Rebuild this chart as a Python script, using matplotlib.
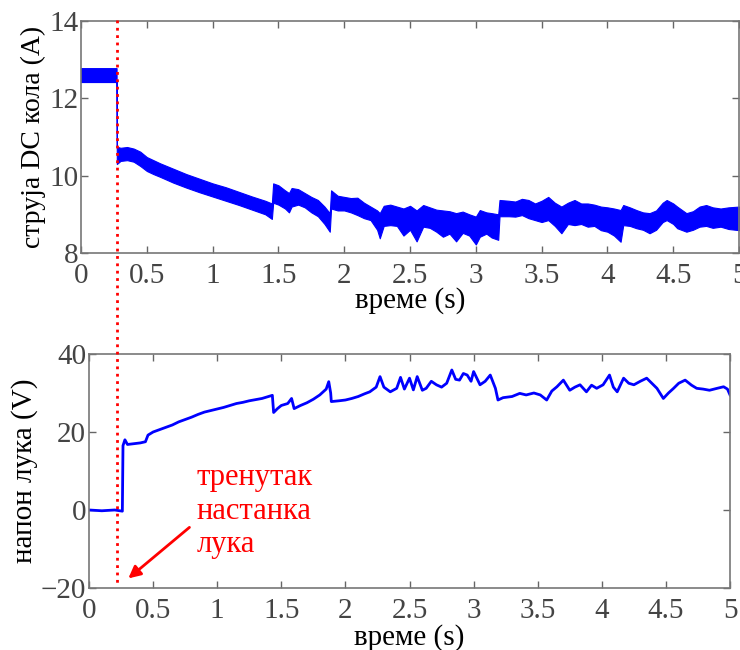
import matplotlib
matplotlib.use('Agg')
import matplotlib.pyplot as plt
from matplotlib.lines import Line2D

plt.rcParams['font.family'] = ['Liberation Serif', 'DejaVu Serif']

# DC circuit current: time, upper and lower edge of the noisy band (A)
cur_t = [0.00, 0.27, 0.272, 0.30, 0.35, 0.40, 0.45, 0.50, 0.55, 0.60, 0.70, 0.80, 0.90, 1.00,
         1.10, 1.20, 1.30, 1.40, 1.45, 1.46, 1.50, 1.55, 1.58, 1.60, 1.65, 1.70, 1.75, 1.80,
         1.85, 1.89, 1.90, 1.95, 2.00, 2.05, 2.10, 2.15, 2.20, 2.25, 2.27, 2.30, 2.35, 2.40,
         2.45, 2.50, 2.55, 2.60, 2.65, 2.70, 2.75, 2.80, 2.85, 2.90, 2.95, 3.00, 3.03, 3.08,
         3.12, 3.17, 3.18, 3.25, 3.30, 3.35, 3.40, 3.45, 3.50, 3.55, 3.60, 3.65, 3.70, 3.75,
         3.80, 3.85, 3.90, 3.95, 4.00, 4.05, 4.10, 4.12, 4.17, 4.22, 4.27, 4.32, 4.37, 4.42,
         4.45, 4.50, 4.53, 4.60, 4.65, 4.70, 4.75, 4.80, 4.86, 4.92, 5.00]
cur_hi = [12.78, 12.78, 10.75, 10.72, 10.74, 10.70, 10.62, 10.48, 10.40, 10.32, 10.18, 10.04, 9.92, 9.80,
          9.70, 9.58, 9.46, 9.35, 9.28, 9.80, 9.75, 9.62, 9.55, 9.68, 9.65, 9.55, 9.45, 9.37,
          9.20, 9.03, 9.62, 9.48, 9.45, 9.42, 9.43, 9.30, 9.20, 9.10, 9.03, 9.22, 9.25, 9.20,
          9.15, 9.22, 9.10, 9.24, 9.18, 9.12, 9.10, 9.08, 9.03, 9.07, 9.00, 8.94, 9.11, 9.05,
          9.03, 9.00, 9.37, 9.35, 9.33, 9.40, 9.37, 9.28, 9.35, 9.45, 9.30, 9.20, 9.30, 9.37,
          9.28, 9.28, 9.25, 9.20, 9.18, 9.15, 9.11, 9.24, 9.18, 9.11, 9.05, 9.03, 9.10, 9.30,
          9.37, 9.28, 9.20, 9.03, 9.08, 9.20, 9.24, 9.18, 9.15, 9.18, 9.20]
cur_lo = [12.42, 12.42, 10.30, 10.38, 10.40, 10.36, 10.25, 10.12, 10.04, 9.97, 9.82, 9.69, 9.57, 9.46,
          9.35, 9.24, 9.12, 9.00, 8.88, 9.30, 9.25, 9.15, 9.05, 9.20, 9.25, 9.18, 9.05, 8.95,
          8.75, 8.55, 9.15, 9.10, 9.10, 9.05, 8.98, 8.90, 8.85, 8.60, 8.38, 8.70, 8.72, 8.70,
          8.45, 8.60, 8.30, 8.68, 8.65, 8.55, 8.42, 8.50, 8.30, 8.52, 8.45, 8.22, 8.42, 8.50,
          8.40, 8.34, 8.95, 8.95, 8.94, 8.98, 8.90, 8.85, 8.80, 8.85, 8.70, 8.51, 8.75, 8.72,
          8.75, 8.68, 8.70, 8.59, 8.55, 8.45, 8.29, 8.72, 8.70, 8.64, 8.60, 8.51, 8.60, 8.80,
          8.85, 8.75, 8.64, 8.55, 8.60, 8.68, 8.70, 8.65, 8.68, 8.62, 8.59]

# arc voltage (V)
volt_t = [0.00, 0.10, 0.20, 0.26, 0.265, 0.28, 0.30, 0.35, 0.40, 0.44, 0.46, 0.50, 0.55, 0.60,
          0.65, 0.70, 0.75, 0.80, 0.85, 0.90, 0.95, 1.00, 1.05, 1.10, 1.15, 1.20, 1.25, 1.30,
          1.35, 1.40, 1.43, 1.44, 1.47, 1.50, 1.55, 1.58, 1.60, 1.65, 1.70, 1.75, 1.80, 1.85,
          1.87, 1.885, 1.89, 1.95, 2.00, 2.05, 2.10, 2.15, 2.19, 2.24, 2.27, 2.30, 2.35, 2.40,
          2.43, 2.46, 2.50, 2.53, 2.56, 2.60, 2.63, 2.67, 2.71, 2.75, 2.79, 2.83, 2.86, 2.89,
          2.92, 2.95, 2.98, 3.00, 3.05, 3.09, 3.13, 3.17, 3.19, 3.23, 3.30, 3.36, 3.41, 3.47,
          3.52, 3.57, 3.61, 3.65, 3.70, 3.75, 3.79, 3.83, 3.88, 3.92, 3.96, 4.01, 4.06, 4.09,
          4.12, 4.17, 4.21, 4.25, 4.30, 4.35, 4.39, 4.43, 4.48, 4.52, 4.56, 4.60, 4.65, 4.70,
          4.74, 4.79, 4.84, 4.90, 4.95, 4.98, 5.00]
volt_v = [0.0, -0.2, 0.0, -0.3, 16.5, 18.0, 16.8, 17.0, 17.2, 17.5, 19.2, 20.0, 20.6, 21.2,
          21.8, 22.6, 23.2, 23.8, 24.5, 25.1, 25.5, 25.9, 26.3, 26.8, 27.3, 27.6, 28.0, 28.3,
          28.6, 29.1, 29.4, 25.0, 26.0, 26.8, 27.3, 28.6, 26.0, 26.8, 27.5, 28.4, 29.5, 31.0,
          32.9, 30.0, 27.8, 28.0, 28.2, 28.6, 29.1, 29.8, 30.3, 31.5, 34.2, 31.5, 30.3, 31.2,
          34.0, 31.0, 33.8, 30.8, 34.2, 30.7, 31.2, 33.0, 32.1, 31.5, 32.5, 35.9, 33.5, 33.3,
          35.0, 34.6, 33.0, 35.5, 32.1, 33.0, 34.6, 31.2, 28.2, 28.8, 29.1, 29.9, 29.5, 30.0,
          29.5, 28.2, 30.5, 31.6, 33.3, 30.7, 31.5, 32.1, 30.3, 32.0, 31.2, 32.1, 34.6, 31.5,
          30.3, 33.8, 32.5, 32.1, 33.0, 33.8, 32.5, 31.2, 28.6, 30.0, 31.2, 32.5, 33.3, 32.0,
          31.2, 31.0, 30.7, 31.2, 31.6, 31.0, 29.5]

x_ticks = [0, 0.5, 1, 1.5, 2, 2.5, 3, 3.5, 4, 4.5, 5]
x_ticklabels = ['0', '0.5', '1', '1.5', '2', '2.5', '3', '3.5', '4', '4.5', '5']

BLUE = '#0000ff'
TICK_FS = 21
LABEL_FS = 21


def style_axes(ax, xlabel_pad):
    ax.set_xlim(0, 5)
    ax.set_xticks(x_ticks)
    ax.set_xticklabels(x_ticklabels)
    ax.tick_params(direction='in', top=True, right=True, length=5, width=1,
                   colors='#666666', labelcolor='#444444', labelsize=TICK_FS)
    ax.tick_params(axis='x', pad=7)
    ax.tick_params(axis='y', pad=2)
    for s in ax.spines.values():
        s.set_color('#777777')
        s.set_linewidth(1.2)
    ax.set_xlabel('време (s)', fontsize=LABEL_FS, labelpad=xlabel_pad)


fig = plt.figure(figsize=(7.4, 6.5), dpi=100)

ax1 = fig.add_axes([0.1095, 0.6108, 0.8892, 0.357])
ax1.fill_between(cur_t, cur_lo, cur_hi, color=BLUE, linewidth=0.8, edgecolor=BLUE)
ax1.set_ylim(8, 14)
ax1.set_yticks([8, 10, 12, 14])
style_axes(ax1, -1)
ax1.set_ylabel('струја DC кола (A)', fontsize=20, labelpad=2)

ax2 = fig.add_axes([0.1203, 0.0954, 0.8662, 0.36])
ax2.plot(volt_t, volt_v, color=BLUE, linewidth=2.0)
ax2.set_ylim(-20, 40)
ax2.set_yticks([-20, 0, 20, 40])
style_axes(ax2, 0)
ax2.set_ylabel('напон лука (V)', fontsize=21, labelpad=2)

# arc onset marker across both panels
fig.add_artist(Line2D([117 / 740, 117 / 740], [1 - 20 / 650, 1 - 585 / 650],
                      transform=fig.transFigure, color='red', linestyle=':', linewidth=2))

ax2.text(0.84, 12.0, 'тренутак\nнастанка\nлука', color='red', fontsize=22,
         va='top', ha='left', linespacing=1.2)
ax2.annotate('', xy=(0.29, -18), xytext=(0.80, -4),
             arrowprops=dict(arrowstyle='-|>', color='red', lw=2, mutation_scale=18))

fig.savefig('out.png', dpi=100)
